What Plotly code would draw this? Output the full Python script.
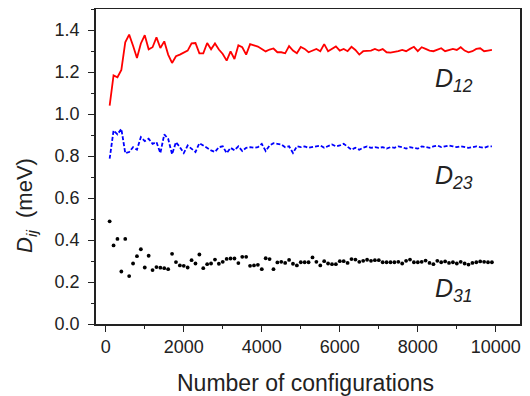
import plotly.graph_objects as go

configs = list(range(100, 10000, 100))

d12 = [
    1.040, 1.184, 1.175, 1.210, 1.341, 1.378, 1.325, 1.267, 1.336, 1.375,
    1.308, 1.318, 1.365, 1.314, 1.346, 1.283, 1.243, 1.275, 1.283, 1.291,
    1.302, 1.336, 1.338, 1.289, 1.289, 1.338, 1.308, 1.336, 1.307, 1.286,
    1.254, 1.298, 1.262, 1.327, 1.318, 1.283, 1.333, 1.327, 1.321, 1.310,
    1.298, 1.307, 1.312, 1.294, 1.294, 1.289, 1.323, 1.302, 1.289,
    1.319, 1.310, 1.294, 1.302, 1.310, 1.299, 1.333, 1.299, 1.310, 1.322,
    1.302, 1.310, 1.299, 1.320, 1.305, 1.283, 1.299, 1.302, 1.302, 1.310,
    1.302, 1.309, 1.294, 1.292, 1.294, 1.299, 1.305, 1.299, 1.310, 1.320,
    1.299, 1.318, 1.310, 1.302, 1.299, 1.305, 1.313, 1.299, 1.305, 1.310,
    1.305, 1.318, 1.302, 1.294, 1.299, 1.310, 1.313, 1.299, 1.302, 1.305,
]

d23 = [
    0.787, 0.921, 0.903, 0.929, 0.814, 0.819, 0.842, 0.830, 0.890, 0.871,
    0.882, 0.858, 0.866, 0.814, 0.903, 0.882, 0.808, 0.866, 0.842, 0.814,
    0.850, 0.835, 0.819, 0.861, 0.850, 0.835, 0.827, 0.819, 0.842, 0.846,
    0.814, 0.839, 0.827, 0.846, 0.824, 0.839, 0.842, 0.839, 0.842, 0.858,
    0.824, 0.850, 0.861, 0.858, 0.855, 0.842, 0.846, 0.814, 0.846,
    0.842, 0.846, 0.839, 0.842, 0.846, 0.850, 0.839, 0.846, 0.855, 0.846,
    0.850, 0.858, 0.846, 0.830, 0.839, 0.830, 0.839, 0.846, 0.839, 0.842,
    0.839, 0.842, 0.835, 0.842, 0.839, 0.846, 0.842, 0.835, 0.842, 0.839,
    0.835, 0.846, 0.842, 0.839, 0.846, 0.850, 0.842, 0.846, 0.850, 0.846,
    0.842, 0.846, 0.842, 0.839, 0.842, 0.846, 0.842, 0.839, 0.846, 0.846,
]

d31 = [
    0.489, 0.374, 0.405, 0.250, 0.405, 0.228, 0.288, 0.323, 0.356, 0.269,
    0.325, 0.257, 0.271, 0.268, 0.266, 0.261, 0.334, 0.295, 0.279, 0.277,
    0.269, 0.304, 0.288, 0.331, 0.266, 0.285, 0.288, 0.307, 0.287, 0.296,
    0.310, 0.312, 0.312, 0.290, 0.320, 0.320, 0.277, 0.279, 0.282, 0.261,
    0.313, 0.309, 0.261, 0.293, 0.296, 0.291, 0.305, 0.287, 0.279,
    0.294, 0.294, 0.294, 0.317, 0.296, 0.279, 0.299, 0.288, 0.285, 0.285,
    0.299, 0.299, 0.291, 0.309, 0.307, 0.296, 0.301, 0.306, 0.301, 0.304,
    0.304, 0.294, 0.294, 0.294, 0.294, 0.296, 0.288, 0.301, 0.307, 0.294,
    0.294, 0.296, 0.302, 0.291, 0.285, 0.301, 0.294, 0.298, 0.291, 0.294,
    0.288, 0.296, 0.288, 0.283, 0.291, 0.294, 0.298, 0.296, 0.294, 0.294,
]

labels = ["12", "23", "31"]
label_x = [8400, 8400, 8400]
label_y = [1.16, 0.70, 0.16]

font_family = "Liberation Sans, Arial, sans-serif"
txt = "#222222"

fig = go.Figure()
fig.add_trace(go.Scatter(x=configs, y=d12, mode="lines",
                         line=dict(color="#ff0000", width=1.8), showlegend=False))
fig.add_trace(go.Scatter(x=configs, y=d23, mode="lines",
                         line=dict(color="#0000ff", width=1.8, dash="4px,2px"), showlegend=False))
fig.add_trace(go.Scatter(x=configs, y=d31, mode="markers",
                         marker=dict(color="#000000", size=3.8), showlegend=False))

for lab, lx, ly in zip(labels, label_x, label_y):
    fig.add_annotation(x=lx, y=ly, xref="x", yref="y", showarrow=False,
                       xanchor="left", yanchor="middle",
                       text=f"<i>D</i><sub><i>{lab}</i></sub>",
                       font=dict(family=font_family, size=25, color=txt))

fig.add_annotation(x=-0.165, y=0.375, xref="paper", yref="paper", showarrow=False,
                   textangle=-90, xanchor="center", yanchor="middle",
                   text="<i>D</i><sub><i>ij</i></sub>  (meV)",
                   font=dict(family=font_family, size=22, color=txt))

fig.add_annotation(x=0.495, y=-0.187, xref="paper", yref="paper", showarrow=False,
                   xanchor="center", yanchor="middle",
                   text="Number of configurations",
                   font=dict(family=font_family, size=23, color=txt))

axis_common = dict(showline=True, linecolor="#222222", linewidth=1.6, mirror=True,
                   ticks="outside", tickcolor="#222222", tickwidth=1.4,
                   showgrid=False, zeroline=False, automargin=False,
                   tickfont=dict(family=font_family, size=18, color=txt))

fig.update_xaxes(range=[-250, 10620], tick0=0, dtick=2000, ticklen=6, tickformat="d",
                 minor=dict(dtick=1000, tick0=0, ticks="outside", ticklen=3,
                            tickcolor="#222222", tickwidth=1.4, showgrid=False),
                 **axis_common)
fig.update_yaxes(range=[0, 1.5], tick0=0, dtick=0.2, tickformat=".1f", ticklen=6,
                 ticklabelstandoff=5,
                 minor=dict(dtick=0.1, tick0=0, ticks="outside", ticklen=3,
                            tickcolor="#222222", tickwidth=1.4, showgrid=False),
                 **axis_common)

# page body has an 8px default margin; compensate so the plot box lands
# where the reference has it
fig.update_layout(width=522, height=388,
                  margin=dict(l=88, r=10, t=1, b=72, autoexpand=False),
                  plot_bgcolor="white", paper_bgcolor="white",
                  font=dict(family=font_family, color=txt))

fig.write_html("out.html")
